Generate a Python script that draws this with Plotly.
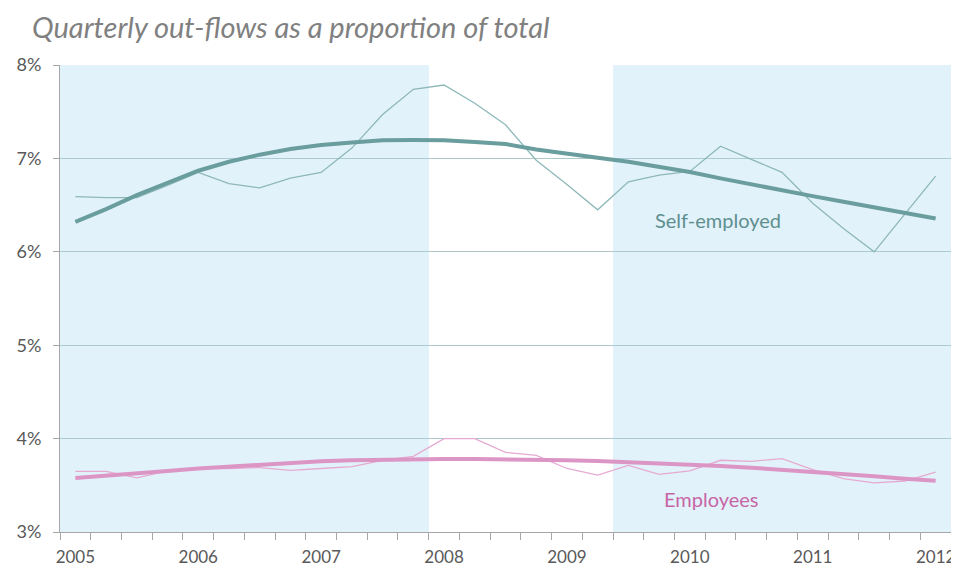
import plotly.graph_objects as go

# ---- data (values in %) ----
quarters = [f"{y}Q{q}" for y in range(2005, 2012) for q in range(1, 5)] + ["2012Q1"]
year_labels = ["2005", "2006", "2007", "2008", "2009", "2010", "2011", "2012"]

self_employed = [6.59, 6.58, 6.58, 6.71, 6.85, 6.73, 6.685, 6.79, 6.85, 7.11, 7.47, 7.74,
                 7.786, 7.59, 7.36, 6.98, 6.72, 6.45, 6.75, 6.82, 6.86, 7.13, 6.99, 6.85,
                 6.52, 6.25, 6.0, 6.41, 6.81]
self_employed_trend = [6.32, 6.457, 6.607, 6.739, 6.868, 6.964, 7.04, 7.1, 7.143, 7.171, 7.193, 7.196,
                       7.193, 7.175, 7.154, 7.096, 7.046, 7.006, 6.964, 6.91, 6.854, 6.786, 6.72, 6.66,
                       6.596, 6.536, 6.475, 6.418, 6.357]
employees = [3.65, 3.65, 3.58, 3.655, 3.68, 3.68, 3.69, 3.66, 3.68, 3.70, 3.767, 3.81,
             4.0, 4.0, 3.853, 3.82, 3.68, 3.61, 3.714, 3.618, 3.654, 3.768, 3.757, 3.786,
             3.668, 3.571, 3.525, 3.546, 3.64]
employees_trend = [3.578, 3.60, 3.625, 3.654, 3.68, 3.70, 3.725, 3.743, 3.757, 3.768, 3.775, 3.779,
                   3.782, 3.781, 3.779, 3.775, 3.768, 3.761, 3.75, 3.739, 3.725, 3.707, 3.689, 3.668,
                   3.646, 3.621, 3.596, 3.571, 3.55]
# 1 = shaded (non-crisis) period, 0 = unshaded
shaded = [1] * 12 + [0] * 6 + [1] * 11

y_ticks = [3, 4, 5, 6, 7, 8]

idx = list(range(len(quarters)))

TEAL = "#6A9D9D"
TEAL_THIN = "#8DB8B8"
PINK = "#DB96C5"
PINK_THIN = "#E6AAD2"
FONT = "Lato"

# the page body adds an 8px offset; size the figure to fill the 959x568 window
W, H = 951, 560

fig = go.Figure()

fig.add_trace(go.Bar(
    x=idx, y=[8 if s else 0 for s in shaded], width=1,
    marker=dict(color="rgba(160,212,240,0.30)", line=dict(width=0)),
    hoverinfo="skip", showlegend=False,
))

fig.add_trace(go.Scatter(x=idx, y=self_employed, mode="lines",
                         line=dict(color=TEAL_THIN, width=1.3), showlegend=False,
                         customdata=quarters))
fig.add_trace(go.Scatter(x=idx, y=self_employed_trend, mode="lines",
                         line=dict(color=TEAL, width=4), showlegend=False))
fig.add_trace(go.Scatter(x=idx, y=employees, mode="lines",
                         line=dict(color=PINK_THIN, width=1.3), showlegend=False))
fig.add_trace(go.Scatter(x=idx, y=employees_trend, mode="lines",
                         line=dict(color=PINK, width=4), showlegend=False))

fig.add_annotation(x=20.9, y=6.34, text="Self-employed", showarrow=False,
                   font=dict(family=FONT, size=20, color="#5E8F8F"))
fig.add_annotation(x=20.7, y=3.35, text="Employees", showarrow=False,
                   font=dict(family=FONT, size=20, color="#C865A6"))

fig.update_layout(
    width=W, height=H,
    margin=dict(l=52, r=8, t=57, b=36),
    paper_bgcolor="white", plot_bgcolor="white",
    bargap=0,
    title=dict(text="Quarterly out-flows as a proportion of total",
               font=dict(family=FONT, size=29, color="#808080", style="italic"),
               x=24 / W, xanchor="left", xref="container",
               y=1 - 20 / H, yanchor="middle", yref="container"),
    font=dict(family=FONT, size=16, color="#595959"),
)

fig.update_xaxes(
    range=[-0.5, len(quarters) - 0.5], automargin=False,
    tickmode="array", tickvals=[i * 4 for i in range(len(year_labels))], ticktext=year_labels,
    ticks="", showgrid=False, zeroline=False,
    showline=True, linecolor="#A6A6A6", linewidth=1,
    minor=dict(tickmode="array", tickvals=[i - 0.5 for i in range(len(quarters) + 1)],
               ticks="outside", ticklen=7, tickcolor="#A6A6A6", tickwidth=1, showgrid=False),
    tickfont=dict(family=FONT, size=17, color="#595959"),
    ticklabelstandoff=10,
)
fig.update_yaxes(
    range=[3, 8], automargin=False,
    tickmode="array", tickvals=y_ticks, ticktext=[f"{v}%" for v in y_ticks],
    ticks="outside", ticklen=6, tickcolor="#A6A6A6",
    showgrid=True, gridcolor="#AFC8C8", gridwidth=1, zeroline=False,
    showline=True, linecolor="#A6A6A6", linewidth=1,
    tickfont=dict(family=FONT, size=18, color="#595959"),
    ticklabelstandoff=8,
)

fig.write_html("out.html")
